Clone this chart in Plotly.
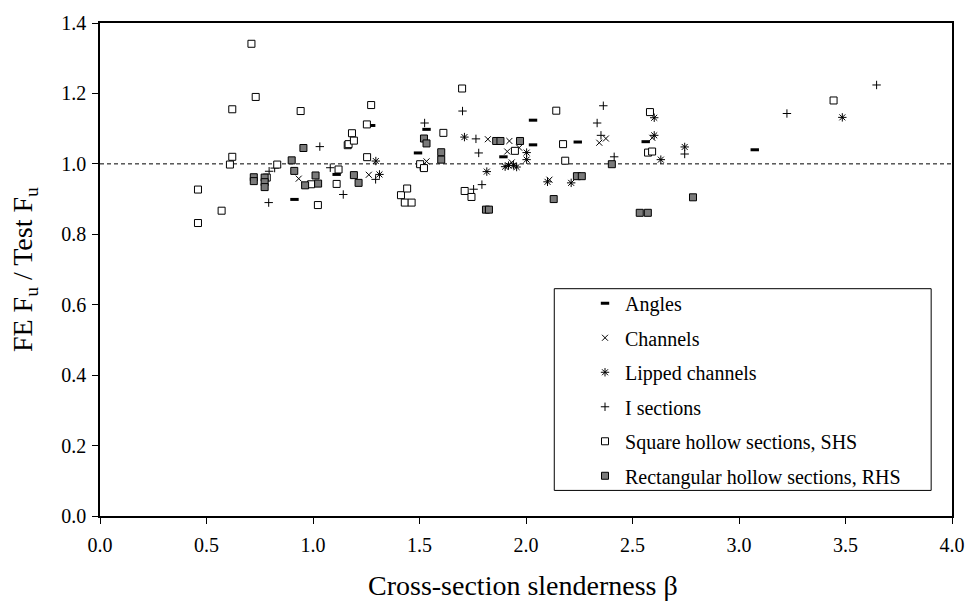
import plotly.graph_objects as go

# ---------------- data ----------------
angles_x = [0.913, 1.111, 1.273, 1.493, 1.533, 1.894, 2.033, 2.033, 2.243, 2.562, 3.074]
angles_y = [0.899, 0.970, 1.109, 1.031, 1.098, 1.020, 1.054, 1.124, 1.062, 1.063, 1.040]

channels_x = [0.933, 1.262, 1.533, 1.821, 1.912, 1.922, 1.933, 1.968, 2.110, 2.344, 2.375, 2.593]
channels_y = [0.958, 0.969, 1.007, 1.070, 1.035, 1.065, 1.004, 1.046, 0.955, 1.060, 1.072, 1.074]

lipped_x = [1.295, 1.312, 1.711, 1.816, 1.902, 1.918, 1.941, 1.956, 2.003, 2.003,
            2.101, 2.212, 2.602, 2.602, 2.633, 2.745, 3.485]
lipped_y = [1.008, 0.970, 1.076, 0.978, 0.992, 0.995, 0.996, 0.991, 1.032, 1.012,
            0.949, 0.946, 1.131, 1.081, 1.012, 1.048, 1.132]

isec_x = [0.792, 0.794, 0.820, 1.032, 1.081, 1.142, 1.294, 1.503, 1.524, 1.702, 1.765,
          1.778, 1.754, 1.793, 2.334, 2.352, 2.363, 2.414, 2.745, 3.225, 3.646]
isec_y = [0.890, 0.979, 0.988, 1.049, 0.989, 0.913, 0.956, 0.993, 1.116, 1.150, 1.071,
          1.031, 0.928, 0.941, 1.116, 1.081, 1.165, 1.020, 1.028, 1.143, 1.224]

shs_x = [0.460, 0.460, 0.571, 0.621, 0.621, 0.610, 0.711, 0.731, 0.783, 0.832, 0.942,
         0.991, 1.023, 1.120, 1.111, 1.163, 1.167, 1.183, 1.192, 1.253, 1.254, 1.273,
         1.413, 1.442, 1.431, 1.463, 1.503, 1.521, 1.612, 1.712, 1.700, 1.744, 1.948,
         2.142, 2.174, 2.184, 2.582, 2.573, 2.592, 3.444]
shs_y = [0.927, 0.832, 0.867, 1.155, 1.020, 0.998, 1.341, 1.190, 0.961, 0.998, 1.150,
         0.942, 0.883, 0.984, 0.943, 1.053, 1.056, 1.087, 1.066, 1.112, 1.019, 1.167,
         0.911, 0.930, 0.890, 0.890, 0.999, 0.988, 1.088, 0.923, 1.214, 0.906, 1.037,
         1.151, 1.056, 1.009, 1.147, 1.032, 1.035, 1.180]

rhs_x = [0.722, 0.722, 0.773, 0.773, 0.773, 0.900, 0.912, 0.955, 0.963, 1.012, 1.024,
         1.192, 1.214, 1.521, 1.533, 1.602, 1.602, 1.812, 1.826, 1.860, 1.880, 1.972,
         2.130, 2.239, 2.262, 2.403, 2.534, 2.572, 2.784]
rhs_y = [0.962, 0.951, 0.961, 0.948, 0.934, 1.010, 0.980, 1.045, 0.939, 0.967, 0.944,
         0.968, 0.946, 1.072, 1.058, 1.033, 1.012, 0.870, 0.870, 1.065, 1.065, 1.065,
         0.900, 0.965, 0.965, 0.999, 0.861, 0.861, 0.905]

series_names = ["Angles", "Channels", "Lipped channels", "I sections",
                "Square hollow sections, SHS", "Rectangular hollow sections, RHS"]
ref_value = 1.0
x_range = [0.0, 4.0]
y_range = [0.0, 1.4]
x_title = "Cross-section slenderness β"
y_title = "FE F<sub>u</sub> / Test F<sub>u</sub>"

FONT = "Liberation Serif, Times New Roman, serif"
BLACK = "#000000"
GRAY = "#7a7a7a"

fig = go.Figure()

styles = [
    dict(symbol="line-ew-open", size=6, line=dict(color=BLACK, width=3), color=BLACK),
    dict(symbol="x-thin-open", size=6, line=dict(color=BLACK, width=1), color=BLACK),
    dict(symbol="asterisk-open", size=7, line=dict(color=BLACK, width=1), color=BLACK),
    dict(symbol="cross-thin-open", size=6, line=dict(color=BLACK, width=1), color=BLACK),
    dict(symbol="square", size=7, line=dict(color=BLACK, width=1), color="#ffffff"),
    dict(symbol="square", size=7, line=dict(color=BLACK, width=1), color=GRAY),
]
data = [(angles_x, angles_y), (channels_x, channels_y), (lipped_x, lipped_y),
        (isec_x, isec_y), (shs_x, shs_y), (rhs_x, rhs_y)]

for i, ((xs, ys), name, st) in enumerate(zip(data, series_names, styles)):
    fig.add_trace(go.Scatter(
        x=xs, y=ys, mode="markers", name=name, marker=st,
        legendgroup=f"g{i}", showlegend=True,
    ))

# plot area in pixels: x 100..959, y 15..516
W, H = 977, 608
L, R, T, B = 100, 18, 15, 92
pw, ph = W - L - R, H - T - B

def px_x(p):
    return (p - L) / pw

def px_y(p):
    return (H - B - p) / ph

shapes = [
    # reference line
    dict(type="line", xref="x", yref="y", x0=x_range[0], x1=x_range[1], y0=ref_value, y1=ref_value,
         line=dict(color=BLACK, width=1, dash="4px,3px"), layer="below"),
    # legend frame
    dict(type="rect", xref="paper", yref="paper", x0=px_x(558), x1=px_x(938),
         y0=px_y(490), y1=px_y(285), line=dict(color=BLACK, width=1),
         fillcolor="rgba(0,0,0,0)", layer="above"),
]

annotations = [
    dict(text=x_title, xref="paper", yref="paper", x=0.497, y=px_y(587),
         xanchor="center", yanchor="middle", showarrow=False,
         font=dict(family=FONT, size=28, color=BLACK)),
    dict(text=y_title, xref="paper", yref="paper", x=px_x(24), y=0.5,
         xanchor="center", yanchor="middle", showarrow=False, textangle=-90,
         font=dict(family=FONT, size=28, color=BLACK)),
]

fig.update_layout(
    width=W, height=H, autosize=False,
    margin=dict(l=L, r=R, t=T, b=B, pad=0),
    paper_bgcolor="white", plot_bgcolor="white",
    font=dict(family=FONT, size=20, color=BLACK),
    shapes=shapes, annotations=annotations,
    legend=dict(
        x=px_x(589), y=px_y(280), xanchor="left", yanchor="top",
        bgcolor="rgba(0,0,0,0)", borderwidth=0,
        font=dict(family=FONT, size=20, color=BLACK),
        traceorder="grouped", tracegroupgap=5.5,
    ),
    xaxis=dict(
        range=x_range, dtick=0.5, tick0=0, tickformat=".1f",
        showgrid=False, zeroline=False,
        showline=True, linecolor=BLACK, linewidth=1.5, mirror=True,
        ticks="outside", ticklen=6, tickwidth=1.3, tickcolor=BLACK,
        ticklabelstandoff=4,
        tickfont=dict(family=FONT, size=20, color=BLACK),
    ),
    yaxis=dict(
        range=y_range, dtick=0.2, tick0=0, tickformat=".1f",
        showgrid=False, zeroline=False,
        showline=True, linecolor=BLACK, linewidth=1.5, mirror=True,
        ticks="outside", ticklen=6, tickwidth=1.3, tickcolor=BLACK,
        ticklabelstandoff=2,
        tickfont=dict(family=FONT, size=20, color=BLACK),
    ),
)

fig.write_html("out.html")
